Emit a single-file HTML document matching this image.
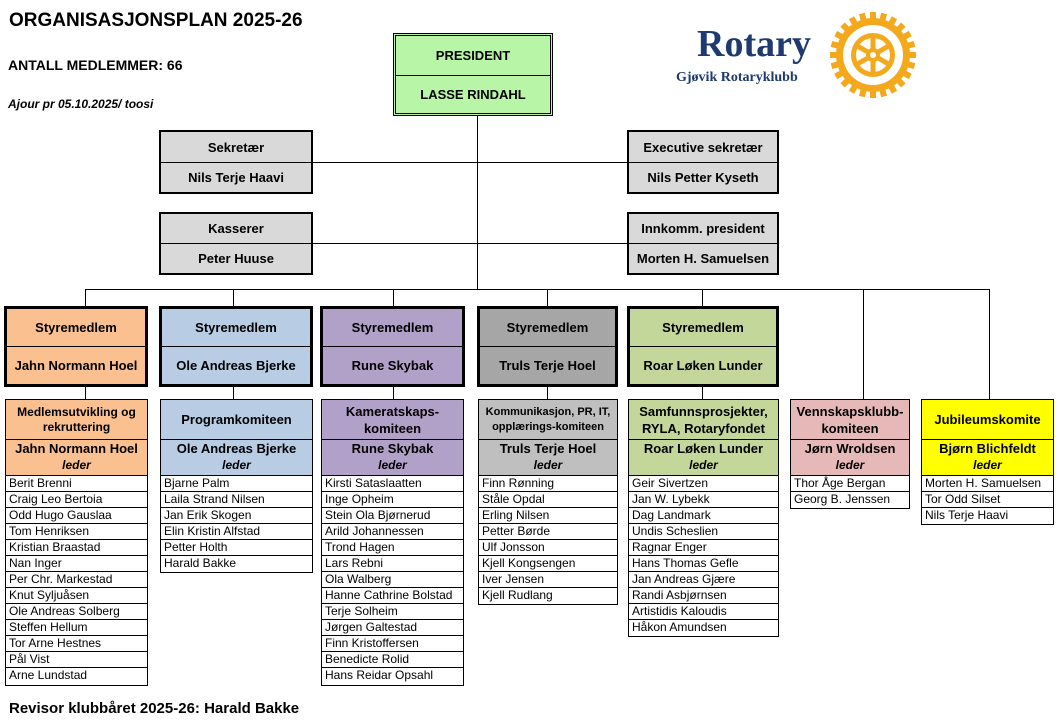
<!DOCTYPE html>
<html><head><meta charset="utf-8"><style>
*{box-sizing:border-box;margin:0;padding:0}
body{width:1058px;height:723px;background:#fff;position:relative;font-family:"Liberation Sans",Arial,sans-serif;overflow:hidden;color:#000}
.a{position:absolute}
.ln{position:absolute;background:#000}
.bx{position:absolute;border:2px solid #000;font-weight:bold;font-size:13px;text-align:center}
.bx div{display:flex;align-items:center;justify-content:center;line-height:15px}
.cm{position:absolute;border:1px solid #000;font-weight:bold;text-align:center}
.cm .t{height:40px;border-bottom:1px solid #000;display:flex;align-items:center;justify-content:center;font-size:13px;line-height:17px}
.cm .l{height:35px;font-size:13px;line-height:17px;padding-top:0}
.cm .l i{display:block;font-size:12px;line-height:16px}
.ml{position:absolute;border:1px solid #000;border-top:none;font-size:12px}
.ml div{height:16px;border-bottom:1px solid #000;line-height:15px;padding-left:3px;white-space:nowrap}
.ml div:last-child{border-bottom:none}
</style></head><body>
<div class="a" style="left:9px;top:10px;font-size:19px;font-weight:bold">ORGANISASJONSPLAN 2025-26</div>
<div class="a" style="left:8px;top:57px;font-size:14px;font-weight:bold">ANTALL MEDLEMMER: 66</div>
<div class="a" style="left:8px;top:97px;font-size:12px;font-weight:bold;font-style:italic">Ajour pr 05.10.2025/ toosi</div>
<div class="a" style="left:9px;top:700px;font-size:15px;font-weight:bold">Revisor klubbåret 2025-26: Harald Bakke</div>

<div class="a" style="left:697px;top:22px;font-family:'Liberation Serif',serif;font-weight:bold;font-size:38px;color:#1f3a6e;line-height:44px">Rotary</div>
<div class="a" style="left:676px;top:70px;font-family:'Liberation Serif',serif;font-weight:bold;font-size:14px;color:#1f3a6e">Gjøvik Rotaryklubb</div>
<svg class="a" style="left:830px;top:12px" width="86" height="86" viewBox="-43 -43 86 86">
<g fill="#f4a81c">
<circle r="37"/>
<g id="t"><rect x="-3" y="-43" width="6" height="8"/></g>
<use href="#t" transform="rotate(15)"/><use href="#t" transform="rotate(30)"/><use href="#t" transform="rotate(45)"/><use href="#t" transform="rotate(60)"/><use href="#t" transform="rotate(75)"/><use href="#t" transform="rotate(90)"/><use href="#t" transform="rotate(105)"/><use href="#t" transform="rotate(120)"/><use href="#t" transform="rotate(135)"/><use href="#t" transform="rotate(150)"/><use href="#t" transform="rotate(165)"/><use href="#t" transform="rotate(180)"/><use href="#t" transform="rotate(195)"/><use href="#t" transform="rotate(210)"/><use href="#t" transform="rotate(225)"/><use href="#t" transform="rotate(240)"/><use href="#t" transform="rotate(255)"/><use href="#t" transform="rotate(270)"/><use href="#t" transform="rotate(285)"/><use href="#t" transform="rotate(300)"/><use href="#t" transform="rotate(315)"/><use href="#t" transform="rotate(330)"/><use href="#t" transform="rotate(345)"/>
</g>
<circle r="30" fill="#fff"/>
<circle r="22" fill="#f4a81c"/>
<circle r="17" fill="#fff"/>
<g stroke="#f4a81c" stroke-width="5"><line x1="0" y1="-18" x2="0" y2="18"/><line x1="-15.6" y1="-9" x2="15.6" y2="9"/><line x1="-15.6" y1="9" x2="15.6" y2="-9"/></g>
<circle r="7" fill="#f4a81c"/><circle r="3" fill="#fff"/>
</svg>

<!-- lines -->
<div class="ln" style="left:477px;top:115px;width:1px;height:175px"></div>
<div class="ln" style="left:312px;top:162px;width:316px;height:1px"></div>
<div class="ln" style="left:312px;top:243px;width:316px;height:1px"></div>
<div class="ln" style="left:85px;top:289px;width:905px;height:1px"></div>
<div class="ln" style="left:85px;top:289px;width:1px;height:18px"></div>
<div class="ln" style="left:233px;top:289px;width:1px;height:18px"></div>
<div class="ln" style="left:393px;top:289px;width:1px;height:18px"></div>
<div class="ln" style="left:547px;top:289px;width:1px;height:18px"></div>
<div class="ln" style="left:702px;top:289px;width:1px;height:18px"></div>
<div class="ln" style="left:863px;top:289px;width:1px;height:110px"></div>
<div class="ln" style="left:989px;top:289px;width:1px;height:110px"></div>
<div class="ln" style="left:85px;top:386px;width:1px;height:13px"></div>
<div class="ln" style="left:233px;top:386px;width:1px;height:13px"></div>
<div class="ln" style="left:393px;top:386px;width:1px;height:13px"></div>
<div class="ln" style="left:547px;top:386px;width:1px;height:13px"></div>
<div class="ln" style="left:702px;top:386px;width:1px;height:13px"></div>

<!-- president -->
<div class="bx" style="left:393px;top:33px;width:160px;height:83px;border:3px double #000;background:#b9f5a6">
<div style="height:40px;border-bottom:1px solid #000">PRESIDENT</div><div style="height:37px">LASSE RINDAHL</div></div>

<div class="bx" style="left:159px;top:130px;width:154px;height:64px;background:#d9d9d9"><div style="height:31px;border-bottom:1px solid #000">Sekretær</div><div style="height:29px">Nils Terje Haavi</div></div>
<div class="bx" style="left:627px;top:130px;width:152px;height:64px;background:#d9d9d9"><div style="height:31px;border-bottom:1px solid #000">Executive sekretær</div><div style="height:29px">Nils Petter Kyseth</div></div>
<div class="bx" style="left:159px;top:212px;width:154px;height:63px;background:#d9d9d9"><div style="height:30px;border-bottom:1px solid #000">Kasserer</div><div style="height:29px">Peter Huuse</div></div>
<div class="bx" style="left:627px;top:212px;width:152px;height:63px;background:#d9d9d9"><div style="height:30px;border-bottom:1px solid #000">Innkomm. president</div><div style="height:29px">Morten H. Samuelsen</div></div>

<!-- board -->
<div class="bx" style="left:4px;top:306px;width:144px;height:81px;border-width:3px;background:#fac090"><div style="height:38px;border-bottom:1px solid #000">Styremedlem</div><div style="height:37px">Jahn Normann Hoel</div></div>
<div class="bx" style="left:159px;top:306px;width:154px;height:81px;border-width:3px;background:#b8cce4"><div style="height:38px;border-bottom:1px solid #000">Styremedlem</div><div style="height:37px">Ole Andreas Bjerke</div></div>
<div class="bx" style="left:320px;top:306px;width:145px;height:81px;border-width:3px;background:#b1a0c7"><div style="height:38px;border-bottom:1px solid #000">Styremedlem</div><div style="height:37px">Rune Skybak</div></div>
<div class="bx" style="left:477px;top:306px;width:141px;height:81px;border-width:3px;background:#a6a6a6"><div style="height:38px;border-bottom:1px solid #000">Styremedlem</div><div style="height:37px">Truls Terje Hoel</div></div>
<div class="bx" style="left:627px;top:306px;width:152px;height:81px;border-width:3px;background:#c4d79b"><div style="height:38px;border-bottom:1px solid #000">Styremedlem</div><div style="height:37px">Roar Løken Lunder</div></div>

<!-- committees -->
<div class="cm" style="left:5px;top:399px;width:143px;height:77px;background:#fac090"><div class="t" style="font-size:12px;line-height:15px">Medlemsutvikling og<br>rekruttering</div><div class="l">Jahn Normann Hoel<i>leder</i></div></div>
<div class="cm" style="left:160px;top:399px;width:153px;height:77px;background:#b8cce4"><div class="t">Programkomiteen</div><div class="l">Ole Andreas Bjerke<i>leder</i></div></div>
<div class="cm" style="left:321px;top:399px;width:143px;height:77px;background:#b1a0c7"><div class="t">Kameratskaps-<br>komiteen</div><div class="l">Rune Skybak<i>leder</i></div></div>
<div class="cm" style="left:478px;top:399px;width:140px;height:77px;background:#bfbfbf"><div class="t" style="font-size:11px;line-height:15px">Kommunikasjon, PR, IT,<br>opplærings-komiteen</div><div class="l">Truls Terje Hoel<i>leder</i></div></div>
<div class="cm" style="left:628px;top:399px;width:151px;height:77px;background:#c4d79b"><div class="t">Samfunnsprosjekter,<br>RYLA, Rotaryfondet</div><div class="l">Roar Løken Lunder<i>leder</i></div></div>
<div class="cm" style="left:790px;top:399px;width:120px;height:77px;background:#e6b8b7"><div class="t">Vennskapsklubb-<br>komiteen</div><div class="l">Jørn Wroldsen<i>leder</i></div></div>
<div class="cm" style="left:921px;top:399px;width:133px;height:77px;background:#ffff00"><div class="t">Jubileumskomite</div><div class="l">Bjørn Blichfeldt<i>leder</i></div></div>

<!-- member lists -->
<div class="ml" style="left:5px;top:476px;width:143px">
<div>Berit Brenni</div><div>Craig Leo Bertoia</div><div>Odd Hugo Gauslaa</div><div>Tom Henriksen</div><div>Kristian Braastad</div><div>Nan Inger</div><div>Per Chr. Markestad</div><div>Knut Syljuåsen</div><div>Ole Andreas Solberg</div><div>Steffen Hellum</div><div>Tor Arne Hestnes</div><div>Pål Vist</div><div style="height:17px">Arne Lundstad</div></div>
<div class="ml" style="left:160px;top:476px;width:153px">
<div>Bjarne Palm</div><div>Laila Strand Nilsen</div><div>Jan Erik Skogen</div><div>Elin Kristin Alfstad</div><div>Petter Holth</div><div>Harald Bakke</div></div>
<div class="ml" style="left:321px;top:476px;width:143px">
<div>Kirsti Sataslaatten</div><div>Inge Opheim</div><div>Stein Ola Bjørnerud</div><div>Arild Johannessen</div><div>Trond Hagen</div><div>Lars Rebni</div><div>Ola Walberg</div><div>Hanne Cathrine Bolstad</div><div>Terje Solheim</div><div>Jørgen Galtestad</div><div>Finn Kristoffersen</div><div>Benedicte Rolid</div><div style="height:17px">Hans Reidar Opsahl</div></div>
<div class="ml" style="left:478px;top:476px;width:140px">
<div>Finn Rønning</div><div>Ståle Opdal</div><div>Erling Nilsen</div><div>Petter Børde</div><div>Ulf Jonsson</div><div>Kjell Kongsengen</div><div>Iver Jensen</div><div>Kjell Rudlang</div></div>
<div class="ml" style="left:628px;top:476px;width:151px">
<div>Geir Sivertzen</div><div>Jan W. Lybekk</div><div>Dag Landmark</div><div>Undis Scheslien</div><div>Ragnar Enger</div><div>Hans Thomas Gefle</div><div>Jan Andreas Gjære</div><div>Randi Asbjørnsen</div><div>Artistidis Kaloudis</div><div>Håkon Amundsen</div></div>
<div class="ml" style="left:790px;top:476px;width:120px">
<div>Thor Åge Bergan</div><div>Georg B. Jenssen</div></div>
<div class="ml" style="left:921px;top:476px;width:133px">
<div>Morten H. Samuelsen</div><div>Tor Odd Silset</div><div>Nils Terje Haavi</div></div>
</body></html>
